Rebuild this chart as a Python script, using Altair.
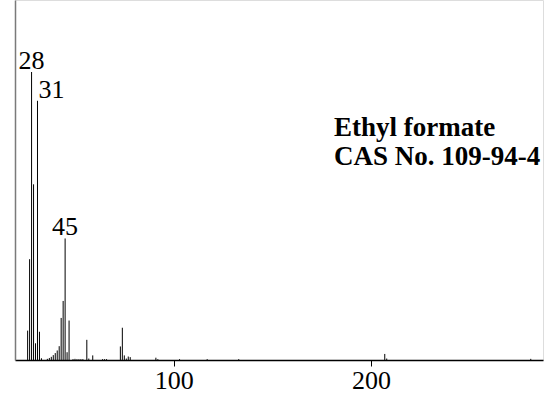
import altair as alt
import pandas as pd

# Electron-ionisation mass spectrum of ethyl formate (relative intensity, %)
mz = [26, 27, 28, 29, 30, 31, 32, 33, 36, 37, 38, 39, 40, 41, 42, 43, 44, 45,
      46, 47, 49, 50, 51, 52, 53, 54, 56, 57, 59, 64, 65, 66, 73, 74, 75, 76,
      77, 78, 91, 92, 103, 117, 133, 207, 208, 281]
intensity = [10.2, 35.0, 100.0, 61.0, 5.8, 90.0, 9.8, 0.6, 0.4, 0.7, 1.1, 1.7,
             2.4, 3.3, 4.8, 14.6, 20.5, 42.2, 2.7, 13.7, 0.3, 0.4, 0.3, 0.3,
             0.3, 0.3, 7.0, 0.5, 1.6, 0.3, 0.3, 0.3, 4.7, 11.2, 1.6, 0.5,
             1.2, 1.0, 0.8, 0.3, 0.3, 0.3, 0.3, 2.1, 0.5, 0.4]

# Labelled peaks and how each label sits against its stick
label_mz = [28, 31, 45]
label_side = ["center", "left", "center"]

title_lines = ["Ethyl formate", "CAS No. 109-94-4"]

SERIF = "Liberation Serif"

spec = pd.DataFrame({"mz": mz, "intensity": intensity})
lookup = dict(zip(mz, intensity))
labels = pd.DataFrame({
    "mz": label_mz,
    "intensity": [lookup[m] for m in label_mz],
    "text": [str(m) for m in label_mz],
    "side": label_side,
})

x_scale = alt.Scale(domain=[19.6, 287.2], nice=False, zero=False)
y_scale = alt.Scale(domain=[0, 125], nice=False)

x_axis = alt.Axis(values=[100, 200], title=None, grid=False,
                  labelFont=SERIF, labelFontSize=26, labelColor="black",
                  labelPadding=1, labelFlush=False,
                  tickColor="black", tickSize=6, tickWidth=1,
                  domainColor="black", domainWidth=1.5)
y_axis = alt.Axis(title=None, grid=False, ticks=False, labels=False,
                  domainColor="#7a7a7a", domainWidth=1.5)

sticks = alt.Chart(spec).mark_rule(color="black", strokeWidth=1).encode(
    x=alt.X("mz:Q", scale=x_scale, axis=x_axis),
    y=alt.Y("intensity:Q", scale=y_scale, axis=y_axis),
    y2=alt.datum(0),
)

layers = [sticks]
for side, dx in (("center", 0), ("left", 1)):
    sub = labels[labels["side"] == side]
    layers.append(
        alt.Chart(sub).mark_text(
            font=SERIF, fontSize=26, color="black", align=side,
            baseline="alphabetic", dx=dx, dy=-3,
        ).encode(x="mz:Q", y="intensity:Q", text="text:N")
    )

# Compound name and registry number, one line each
for i, line in enumerate(title_lines):
    layers.append(
        alt.Chart(pd.DataFrame({"line": [line]})).mark_text(
            font=SERIF, fontSize=27, fontWeight="bold", color="black",
            align="left", baseline="alphabetic",
        ).encode(x=alt.value(319), y=alt.value(136 + 29 * i), text="line:N")
    )

chart = alt.layer(*layers).properties(
    width=528, height=360,
    autosize=alt.AutoSizeParams(type="none"),
    padding={"left": 15, "top": 0, "right": 8, "bottom": 39},
).configure_view(stroke=None).configure(background="white")

chart.save("out.html", embed_options={"renderer": "svg", "actions": False})
